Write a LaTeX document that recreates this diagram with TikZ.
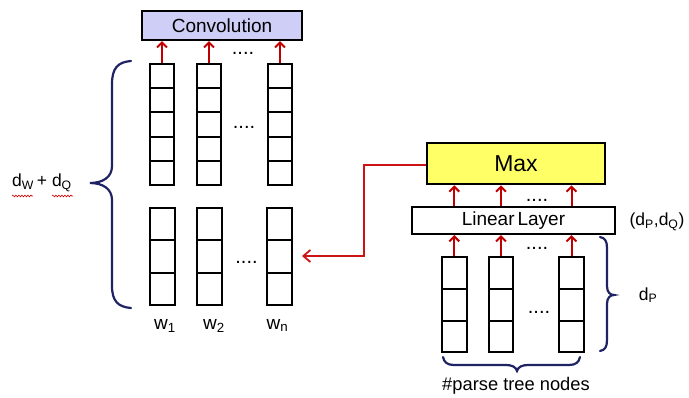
\documentclass[tikz,border=0pt]{standalone}
\usepackage{fontspec}
\setmainfont{Liberation Sans}
\usetikzlibrary{arrows.meta,decorations.pathmorphing}
\definecolor{arrred}{RGB}{192,0,0}
\definecolor{linkred}{RGB}{204,20,20}
\definecolor{bracenavy}{RGB}{31,35,100}
\definecolor{convfill}{RGB}{206,206,246}
\definecolor{maxfill}{RGB}{255,255,102}
\begin{document}
\begin{tikzpicture}[x=1pt,y=-1pt,
  cell/.style={draw=black,line width=2pt,fill=white,inner sep=0pt,minimum width=23.5pt},
  boxnode/.style={draw=black,line width=2pt,inner sep=0pt},
  redarrow/.style={draw=arrred,line width=2pt,-{Straight Barb[length=5pt,width=10pt,line width=2pt]}},
  linkarrow/.style={draw=linkred,line width=1.8pt,-{Straight Barb[length=7pt,width=12pt,line width=1.8pt]}},
  bracepath/.style={draw=bracenavy,line width=2.2pt,line cap=round},
  dotsnode/.style={inner sep=0pt,anchor=base,font=\fontsize{20}{20}\selectfont},
  lbl/.style={inner sep=0pt,font=\fontsize{19}{21}\selectfont},
  wavy/.style={draw=red!85!black,line width=0.6pt,decorate,decoration={snake,amplitude=0.9pt,segment length=3pt}}
]
\useasboundingbox (0,0) rectangle (689,397);

% ---- Convolution box
\node[boxnode,fill=convfill,minimum width=160pt,minimum height=29pt,font=\fontsize{19}{19}\selectfont] (conv) at (222,25.5) {Convolution};

% ---- left top columns (5 cells)
\foreach \c/\x in {1/162,2/209,3/280}{
  \foreach \r in {1,...,5}{
    \node[cell,minimum height=24.2pt] (ta\c\r) at (\x,{64+24.2*(\r-0.5)}) {};
  }
  \draw[redarrow] (ta\c1.north) -- (ta\c1.north |- conv.south);
}
% ---- left bottom columns (3 cells)
\foreach \c/\x in {1/162.5,2/209.5,3/279.5}{
  \foreach \r in {1,...,3}{
    \node[cell,minimum width=24.3pt,minimum height=32.3pt] (tb\c\r) at (\x,{208+32.3*(\r-0.5)}) {};
  }
}
\node[dotsnode] (d1) at (243,54) {....};
\node[dotsnode] (d2) at (244,128) {....};
\node[dotsnode] (d3) at (246.5,263.5) {....};

% ---- w labels
\node[lbl,anchor=base] (w1) at (165,329) {w\textsubscript{1}};
\node[lbl,anchor=base] (w2) at (214,329) {w\textsubscript{2}};
\node[lbl,anchor=base] (wn) at (277.5,329) {w\textsubscript{n}};

% ---- left brace
\draw[bracepath] (131,61) .. controls (118,62) and (112,68) .. (112,84) -- (112,166)
  .. controls (112,177) and (103,183) .. (90,183)
  .. controls (103,183) and (112,189) .. (112,200) -- (112,286)
  .. controls (112,301) and (118,307) .. (131,308);
\node[lbl,font=\fontsize{17.5}{19}\selectfont] (dwq) at (42,183) {d\textsubscript{W}\,+ d\textsubscript{Q}};
\draw[wavy] (12,196) -- (33,196);
\draw[wavy] (52,196) -- (73,196);

% ---- Max and Linear Layer
\node[boxnode,line width=2.5pt,fill=maxfill,minimum width=178pt,minimum height=41pt,font=\fontsize{23}{23}\selectfont] (max) at (516,163.5) {Max};
\node[boxnode,fill=white,minimum width=203pt,minimum height=27pt,font=\fontsize{19}{19}\selectfont] (lin) at (513.5,220.5) {Linear\kern3pt{}Layer};

% ---- right columns
\foreach \c/\x in {1/454.3,2/501,3/571.5}{
  \foreach \r in {1,...,3}{
    \node[cell,minimum width=24.5pt,minimum height=31.8pt] (rc\c\r) at (\x,{257+31.8*(\r-0.5)}) {};
  }
  \draw[redarrow] (rc\c1.north) -- (rc\c1.north |- lin.south);
  \draw[redarrow] (rc\c1.north |- lin.north) -- (rc\c1.north |- max.south);
}
\node[dotsnode] (d4) at (537,201.5) {....};
\node[dotsnode] (d5) at (537,249.5) {....};
\node[dotsnode] (d6) at (539,313.5) {....};

% ---- right brace (d_P)
\draw[bracepath] (600,237) .. controls (605,238) and (607,241) .. (607,248) -- (607,286)
  .. controls (607,292) and (610,295) .. (614,295)
  .. controls (610,295) and (607,298) .. (607,304) -- (607,340)
  .. controls (607,347) and (605,350) .. (600,351);
\node[lbl,font=\fontsize{17.5}{19}\selectfont] (dp) at (648,295) {d\textsubscript{P}};
\node[lbl,font=\fontsize{17.5}{19}\selectfont] (dpq) at (657,222) {(d\textsubscript{P},d\textsubscript{Q})};

% ---- bottom brace
\draw[bracepath] (443,357) .. controls (444,362) and (447,365) .. (454,365) -- (506,365)
  .. controls (512,365) and (516,367) .. (517,371)
  .. controls (518,367) and (522,365) .. (528,365) -- (569,365)
  .. controls (576,365) and (579,362) .. (580,357);
\node[lbl,font=\fontsize{18.3}{20}\selectfont] (ptn) at (516,386) {\#parse tree nodes};

% ---- connector Max -> left columns
\coordinate (bend) at (364,165);
\coordinate (tgt) at (302,256);
\draw[linkarrow] (max.west |- bend) -- (bend) |- (tgt);
\end{tikzpicture}
\end{document}
